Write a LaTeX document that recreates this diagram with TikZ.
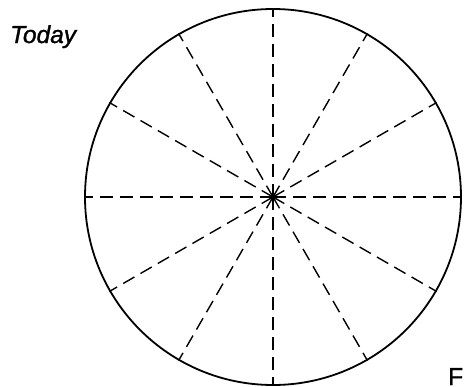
\documentclass[tikz,border=0pt]{standalone}
\usepackage{fontspec}
\setmainfont{Liberation Sans}
\newfontfamily\labelfont[FakeBold=1.3]{Liberation Sans}
\begin{document}
\begin{tikzpicture}[x=1pt,y=-1pt,
  ringstyle/.style={circle,draw,line width=1.8pt,minimum size=376pt,inner sep=0pt},
  spoke/.style={line width=1.4pt,dash pattern=on 13pt off 7pt},
  label/.style={font=\labelfont\fontsize{24.5}{26}\selectfont,inner sep=0pt}]
\useasboundingbox (0,0) rectangle (466,386);
\clip (0,0) rectangle (466,386);
\coordinate (c) at (273,197);
\node[ringstyle] (ring) at (c) {};
\foreach \a in {0,30,...,330}{
  \draw[spoke] (c) -- (ring.\a);
}
\node[label,anchor=base west] (today) at (10,43) {\itshape Today};
\node[label,anchor=base west] (fig) at (448,385) {F};
\end{tikzpicture}
\end{document}
